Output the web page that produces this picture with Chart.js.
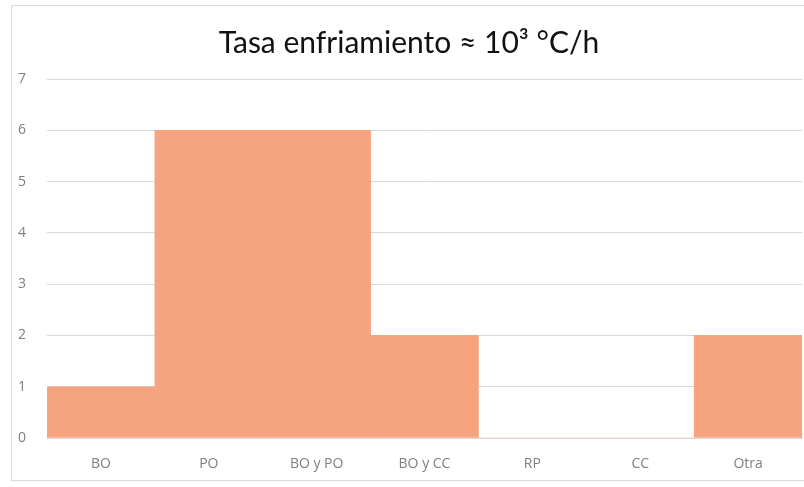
<!DOCTYPE html>
<html>
<head>
<meta charset="utf-8">
<script src="https://cdn.jsdelivr.net/npm/chart.js@4/dist/chart.umd.min.js"></script>
<style>
  html, body { margin: 0; padding: 0; background: #ffffff; }
  #wrap { position: relative; width: 804px; height: 487px; }
  #frame { position: absolute; left: 11px; top: 5px; width: 800px; height: 476px;
           border: 1px solid #d9d9d9; box-sizing: border-box; }
  canvas { position: absolute; left: 0; top: 0; }
</style>
</head>
<body>
<div id="wrap">
  <div id="frame"></div>
  <canvas id="c" width="804" height="487"></canvas>
</div>
<script>
const categories = ["BO", "PO", "BO y PO", "BO y CC", "RP", "CC", "Otra"];
const counts = [1, 6, 6, 2, 0, 0, 2];
const yTicks = [0, 1, 2, 3, 4, 5, 6, 7];

const labelFont = "'Liberation Sans Narrow', 'Open Sans', sans-serif";

new Chart(document.getElementById("c"), {
  type: "bar",
  data: {
    labels: categories,
    datasets: [{
      data: counts,
      backgroundColor: "#f5a47f",
      borderWidth: 0,
      categoryPercentage: 1.0,
      barPercentage: 1.0
    }]
  },
  options: {
    responsive: false,
    animation: false,
    layout: { padding: { left: 16, right: 2, top: 25, bottom: 11 } },
    plugins: {
      legend: { display: false },
      tooltip: { enabled: false },
      title: {
        display: true,
        text: "Tasa enfriamiento \u2248 10\u00B3 \u00B0C/h",
        color: "#111111",
        font: { family: "Lato, sans-serif", size: 30, weight: "normal" },
        padding: { top: 0, bottom: 18 }
      }
    },
    scales: {
      x: {
        afterFit: (s) => { s.height = 38; },
        grid: { display: false, drawTicks: false },
        border: { display: true, color: "#d9d9d9", width: 1 },
        ticks: { color: "#7f7f7f", font: { family: labelFont, size: 14 }, padding: 18, maxRotation: 0 }
      },
      y: {
        min: 0, max: 7,
        afterFit: (s) => { s.width = 31; },
        afterBuildTicks: (s) => { s.ticks = yTicks.map(v => ({ value: v })); },
        grid: { color: "#d9d9d9", drawTicks: false },
        border: { display: false },
        ticks: { color: "#7f7f7f", font: { family: labelFont, size: 14 }, padding: 21, stepSize: 1 }
      }
    }
  }
});
</script>
</body>
</html>
